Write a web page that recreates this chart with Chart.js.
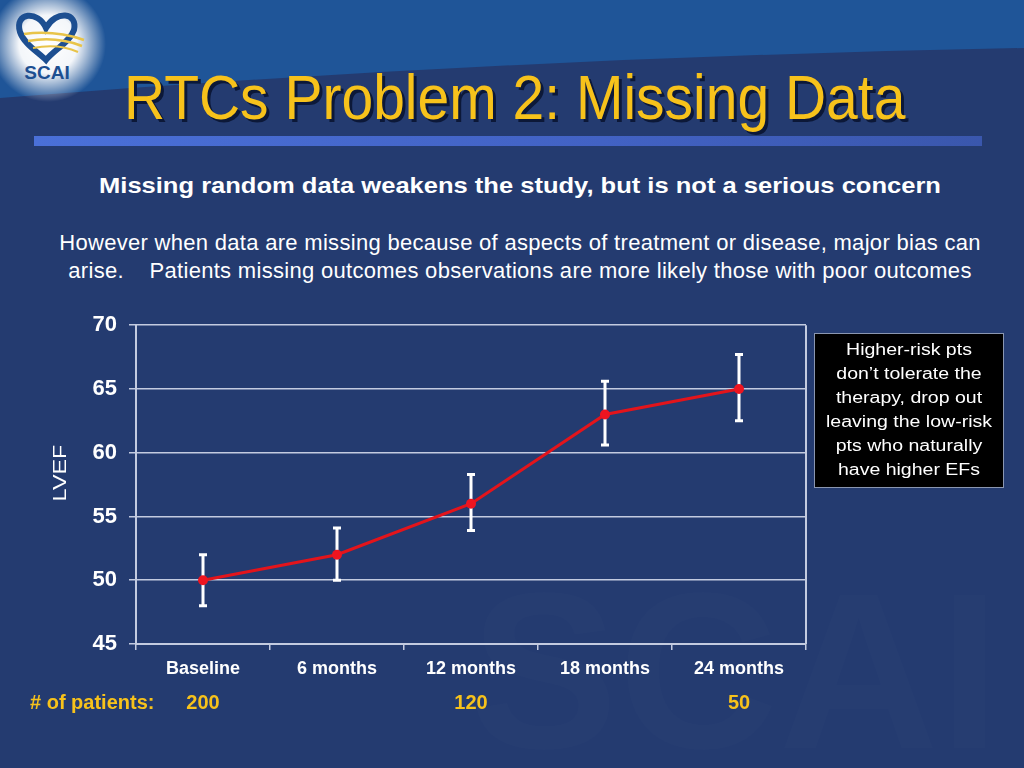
<!DOCTYPE html>
<html>
<head>
<meta charset="utf-8">
<script src="https://cdn.jsdelivr.net/npm/chart.js@4.4.0/dist/chart.umd.min.js"></script>
<style>
html, body { margin: 0; padding: 0; }
body {
    width: 1024px; height: 768px; position: relative; overflow: hidden;
    background: #243b70;
    font-family: "Liberation Sans", Arial, sans-serif;
}
#bg { position: absolute; left: 0; top: 0; }
#title {
    position: absolute; left: 124px; top: 71px; margin: 0;
    font-size: 57px; line-height: 57px; font-weight: normal;
    color: #f7c21b; white-space: nowrap;
    text-shadow: 3px 3px 0 #0c1838;
    transform: scaleY(1.1); transform-origin: 0 48px;
}
#rule {
    position: absolute; left: 34px; top: 136px; width: 948px; height: 10px;
    background: linear-gradient(to right, #4a70d8, #4262c4 60%, #3a57ad);
}
#subtitle {
    position: absolute; left: 0; width: 1040px; top: 175px; text-align: center;
    font-size: 22px; line-height: 22px; font-weight: bold; color: #fff;
    white-space: nowrap;
    transform: scaleX(1.16); transform-origin: 520px 0;
}
#body {
    position: absolute; left: 0; width: 1040px; top: 229px; text-align: center;
    font-size: 22px; line-height: 28px; color: #fff; white-space: pre;
    letter-spacing: 0.3px;
}
#chartBox { position: absolute; left: 0; top: 300px; }
#note {
    position: absolute; left: 814px; top: 333px; width: 188px; height: 153px;
    background: #000; border: 1px solid #8a96b0;
}
#noteText {
    width: 188px; margin-top: 4px;
    color: #fff; text-align: center; white-space: nowrap;
    font-size: 16px; line-height: 24px;
    transform: scaleX(1.22); transform-origin: 94px 0;
}
</style>
</head>
<body>

<svg id="bg" width="1024" height="768">
    <defs>
        <radialGradient id="glow" cx="0.5" cy="0.5" r="0.5">
            <stop offset="0" stop-color="#ffffff" stop-opacity="1"/>
            <stop offset="0.5" stop-color="#ffffff" stop-opacity="0.95"/>
            <stop offset="1" stop-color="#ffffff" stop-opacity="0"/>
        </radialGradient>
    </defs>
    <path d="M0,0 H1024 V48 Q500,58 0,98 Z" fill="#1f5598"/>
    <text x="470" y="748" font-family="Liberation Sans, Arial" font-weight="bold" font-size="222"
          fill="#ffffff" fill-opacity="0.012">SCAI</text>
    <circle cx="48" cy="44" r="58" fill="url(#glow)"/>
    <path d="M46,28 C38,10 14,12 20,32 C24,44 38,52 46,60 C54,50 70,42 74,30 C78,12 56,10 46,28 Z"
          fill="none" stroke="#1d4f91" stroke-width="6"/>
    <path d="M24,34 Q55,30 84,40" fill="none" stroke="#e8c44a" stroke-width="2.5"/>
    <path d="M28,41 Q56,36 82,46" fill="none" stroke="#e8c44a" stroke-width="2.5"/>
    <path d="M33,48 Q58,43 78,52" fill="none" stroke="#e8c44a" stroke-width="2"/>
    <text x="47" y="79" text-anchor="middle" font-family="Liberation Sans, Arial" font-weight="bold"
          font-size="19" fill="#1d4f91">SCAI</text>
</svg>

<h1 id="title">RTCs Problem 2: Missing Data</h1>
<div id="rule"></div>
<div id="subtitle">Missing random data weakens the study, but is not a serious concern</div>
<div id="body">However when data are missing because of aspects of treatment or disease, major bias can
arise.    Patients missing outcomes observations are more likely those with poor outcomes</div>

<div id="chartBox"><canvas id="lvefChart" width="820" height="420"></canvas></div>

<div id="note"><div id="noteText">
    <div>Higher-risk pts</div>
    <div>don’t tolerate the</div>
    <div>therapy, drop out</div>
    <div>leaving the low-risk</div>
    <div>pts who naturally</div>
    <div>have higher EFs</div>
</div></div>

<script>
// ---- data ----
const categories = ["Baseline", "6 months", "12 months", "18 months", "24 months"];
const lvefMean   = [50, 52, 56, 63, 65];
const lvefUpper  = [52, 54.1, 58.3, 65.6, 67.7];
const lvefLower  = [48, 50, 53.9, 60.6, 62.5];
const patientCounts = ["200", "", "120", "", "50"];
const patientLabel = "# of patients:";
const yTitle = "LVEF";
const yMin = 45, yMax = 70, yStep = 5;

const gridColor = "#c3cbe0";
const fontFam = "'Liberation Sans', Arial, sans-serif";

Chart.defaults.font.family = fontFam;

// white error bars, drawn under the red line
const errorBars = {
    id: "errorBars",
    beforeDatasetsDraw(chart) {
        const { ctx, scales: { x, y } } = chart;
        ctx.save();
        ctx.strokeStyle = "#ffffff";
        ctx.lineWidth = 3;
        lvefMean.forEach((v, i) => {
            const px = x.getPixelForValue(i);
            const top = y.getPixelForValue(lvefUpper[i]);
            const bot = y.getPixelForValue(lvefLower[i]);
            ctx.beginPath();
            ctx.moveTo(px, top); ctx.lineTo(px, bot);
            ctx.moveTo(px - 4, top); ctx.lineTo(px + 4, top);
            ctx.moveTo(px - 4, bot); ctx.lineTo(px + 4, bot);
            ctx.stroke();
        });
        ctx.restore();
    }
};

// right frame line, axis title and patient counts row
const frameAndCounts = {
    id: "frameAndCounts",
    afterDraw(chart) {
        const { ctx, chartArea, scales: { x } } = chart;
        ctx.save();
        ctx.strokeStyle = gridColor;
        ctx.lineWidth = 2;
        ctx.beginPath();
        ctx.moveTo(chartArea.right, chartArea.top);
        ctx.lineTo(chartArea.right, chartArea.bottom);
        ctx.stroke();

        // y axis title (a bit stretched like the slide)
        ctx.save();
        ctx.translate(61, 173);
        ctx.rotate(-Math.PI / 2);
        ctx.scale(1.3, 1);
        ctx.fillStyle = "#fff";
        ctx.font = "18px " + fontFam;
        ctx.textAlign = "center";
        ctx.textBaseline = "middle";
        ctx.fillText(yTitle, 0, 0);
        ctx.restore();

        ctx.fillStyle = "#f7c21b";
        ctx.font = "bold 20px " + fontFam;
        ctx.textBaseline = "middle";
        ctx.textAlign = "left";
        ctx.fillText(patientLabel, 30, 403);
        ctx.textAlign = "center";
        patientCounts.forEach((c, i) => {
            if (c) ctx.fillText(c, x.getPixelForValue(i), 403);
        });
        ctx.restore();
    }
};

new Chart(document.getElementById("lvefChart"), {
    type: "line",
    data: {
        labels: categories,
        datasets: [{
            data: lvefMean,
            borderColor: "#e3141b",
            borderWidth: 3,
            pointRadius: 5,
            pointBackgroundColor: "#ee1520",
            pointBorderWidth: 0,
            tension: 0
        }]
    },
    options: {
        responsive: false,
        animation: false,
        layout: { padding: { top: 23, right: 14, bottom: 40, left: 0 } },
        plugins: { legend: { display: false }, tooltip: { enabled: false } },
        scales: {
            x: {
                offset: true,
                grid: { offset: true, drawOnChartArea: false, color: gridColor, lineWidth: 1.5, tickLength: 6 },
                border: { color: gridColor, width: 2 },
                ticks: { color: "#fff", font: { size: 18, weight: "bold" }, padding: 8, maxRotation: 0, autoSkip: false },
                afterFit(s) { s.height = 36; }
            },
            y: {
                min: yMin, max: yMax,
                ticks: { stepSize: yStep, color: "#fff", font: { size: 22, weight: "bold" }, padding: 12 },
                grid: { color: gridColor, lineWidth: 1.5, tickLength: 7 },
                border: { color: gridColor, width: 2 },
                afterFit(s) { s.width = 136; }
            }
        }
    },
    plugins: [errorBars, frameAndCounts]
});
</script>
</body>
</html>
